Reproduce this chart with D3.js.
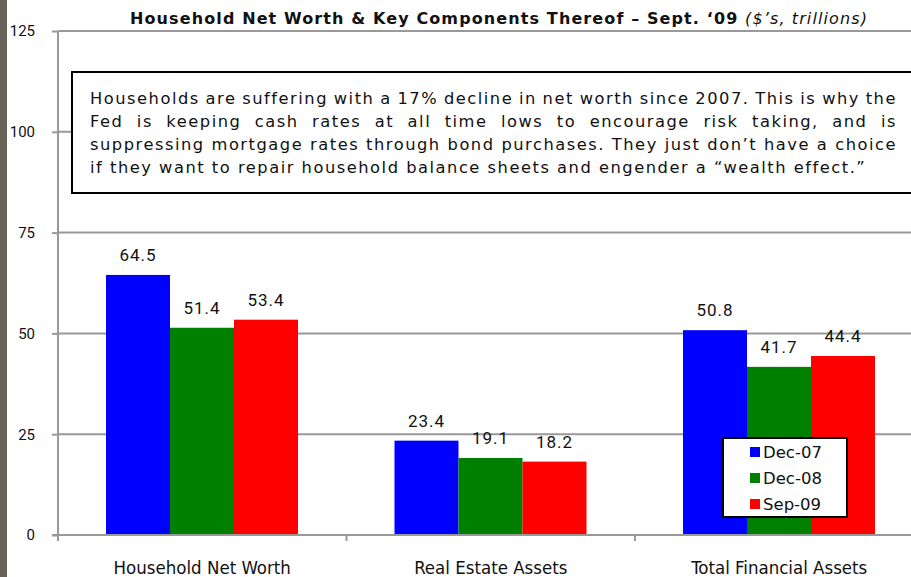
<!DOCTYPE html>
<html>
<head>
<meta charset="utf-8">
<script src="https://cdn.jsdelivr.net/npm/d3@7"></script>
<style>
  body { margin: 0; background: #fff; }
  svg { display: block; }
</style>
</head>
<body>
<div id="chart"></div>
<script>
// Set dimensions and margins for plot
const width = 911;
const height = 577;
const margin = {left: 58, top: 31, bottom: 42};
const band = 288.5;

// Chart data
const categories = ["Household Net Worth", "Real Estate Assets", "Total Financial Assets"];
const seriesNames = ["Dec-07", "Dec-08", "Sep-09"];
const dec07 = [64.5, 23.4, 50.8];
const dec08 = [51.4, 19.1, 41.7];
const sep09 = [53.4, 18.2, 44.4];
const colors = ["#0000ff", "#008000", "#ff0000"];
const yTicks = [0, 25, 50, 75, 100, 125];

const titleMain = "Household Net Worth & Key Components Thereof \u2013 Sept. \u201809 ";
const titleItalic = "($\u2019s, trillions)";
const noteLines = [
  "Households are suffering with a 17% decline in net worth since 2007. This is why the",
  "Fed is keeping cash rates at all time lows to encourage risk taking, and is",
  "suppressing mortgage rates through bond purchases. They just don\u2019t have a choice",
  "if they want to repair household balance sheets and engender a \u201cwealth effect.\u201d"
];

const series = [dec07, dec08, sep09];
const font = "'DejaVu Sans', sans-serif";

const svg = d3.select("#chart")
  .append("svg")
  .attr("width", width)
  .attr("height", height);

// left edge strip
svg.append("rect")
  .attr("x", 0).attr("y", 0)
  .attr("width", 7).attr("height", height)
  .attr("fill", "#6b6259");

// Scales
let yScale = d3.scaleLinear()
  .domain([0, 125])
  .range([height - margin.bottom, margin.top]);

let xScale = d3.scaleBand()
  .domain(d3.range(categories.length + 1))
  .range([margin.left, margin.left + band * 4]);

let xSub = d3.scaleBand()
  .domain(d3.range(series.length))
  .range([48, 48 + 192]);

// Gridlines
svg.append("g")
  .selectAll("line")
  .data(yTicks)
  .enter()
  .append("line")
    .attr("x1", margin.left)
    .attr("x2", width)
    .attr("y1", d => yScale(d))
    .attr("y2", d => yScale(d))
    .attr("stroke", "#999")
    .attr("stroke-width", 2);

// Y axis
const yAxis = svg.append("g")
  .attr("transform", `translate(${margin.left},0)`)
  .call(d3.axisLeft(yScale).tickValues(yTicks).tickSize(6).tickPadding(17))
  .attr("font-size", "15px")
  .attr("font-family", "Roboto, 'DejaVu Sans', sans-serif");
yAxis.selectAll("path, line").attr("stroke", "#999").attr("stroke-width", 2);
yAxis.select(".domain").attr("d", `M-6,${yScale(0)}H0V${yScale(125)}`);
yAxis.selectAll("text").attr("fill", "#111");

// Bars
const groups = svg.append("g")
  .selectAll("g")
  .data(series)
  .enter()
  .append("g")
    .attr("fill", (d, i) => colors[i]);

groups.each(function(vals, si) {
  d3.select(this).selectAll("rect")
    .data(vals)
    .enter()
    .append("rect")
      .attr("x", (d, ci) => xScale(ci) + xSub(si))
      .attr("y", d => yScale(d))
      .attr("width", xSub.bandwidth())
      .attr("height", d => yScale(0) - yScale(d));

  d3.select(this).selectAll("text")
    .data(vals)
    .enter()
    .append("text")
      .attr("x", (d, ci) => xScale(ci) + xSub(si) + xSub.bandwidth() / 2)
      .attr("y", d => yScale(d) - 14)
      .attr("text-anchor", "middle")
      .attr("fill", "#111")
      .attr("font-size", "17px")
      .attr("letter-spacing", "1px")
      .attr("font-family", "Roboto, 'DejaVu Sans', sans-serif")
      .text(d => d.toFixed(1));
});

// X axis
const xAxis = svg.append("g")
  .attr("transform", `translate(0,${yScale(0)})`);
xAxis.append("line")
  .attr("x1", margin.left).attr("x2", width)
  .attr("stroke", "#999").attr("stroke-width", 2);
xAxis.selectAll(".tick")
  .data(d3.range(categories.length))
  .enter()
  .append("line")
    .attr("x1", d => xScale(d)).attr("x2", d => xScale(d))
    .attr("y1", 0).attr("y2", 6)
    .attr("stroke", "#999").attr("stroke-width", 2);
xAxis.selectAll("text")
  .data(categories)
  .enter()
  .append("text")
    .attr("x", (d, i) => xScale(i) + xScale.bandwidth() / 2)
    .attr("y", 39)
    .attr("text-anchor", "middle")
    .attr("font-size", "18.5px")
    .attr("font-family", "'Liberation Sans Narrow', 'DejaVu Sans Condensed', sans-serif")
    .attr("fill", "#111")
    .text(d => d);

// Title: fit letter spacing so it spans the same width as the original
const title = svg.append("text")
  .attr("x", 130)
  .attr("y", 24)
  .attr("font-family", font)
  .attr("font-size", "16px")
  .attr("fill", "#111");
title.append("tspan").attr("font-weight", "bold").text(titleMain);
title.append("tspan").attr("font-style", "italic").text(titleItalic);
{
  const w = title.node().getComputedTextLength();
  const n = (titleMain + titleItalic).length;
  title.attr("letter-spacing", Math.max(0, ((868 - 130) - w) / n));
}

// Note box
svg.append("rect")
  .attr("x", 72).attr("y", 72)
  .attr("width", 860).attr("height", 121)
  .attr("fill", "#fff")
  .attr("stroke", "#000")
  .attr("stroke-width", 2);

const noteG = svg.append("g")
  .attr("font-family", font)
  .attr("font-size", "16.3px")
  .attr("fill", "#111");
const left = 90, right = 897;
// letter spacing from the last (left aligned) line, which ends near x=866
{
  const lastLine = noteLines[noteLines.length - 1];
  const probe = noteG.append("text").text(lastLine);
  const w = probe.node().getComputedTextLength();
  probe.remove();
  noteG.attr("letter-spacing", Math.max(0, ((866 - left) - w) / lastLine.length));
}
noteLines.forEach((line, li) => {
  const y = 104 + li * 23;
  const words = line.split(" ");
  const last = li === noteLines.length - 1;
  const nodes = words.map(w => noteG.append("text").attr("y", y).text(w));
  const widths = nodes.map(n => n.node().getComputedTextLength());
  const total = d3.sum(widths);
  let gap;
  if (last) {
    const sp = noteG.append("text").text("a a");
    const sa = noteG.append("text").text("aa");
    gap = sp.node().getComputedTextLength() - sa.node().getComputedTextLength();
    sp.remove(); sa.remove();
  } else {
    gap = (right - left - total) / (words.length - 1);
  }
  let x = left;
  nodes.forEach((n, i) => { n.attr("x", x); x += widths[i] + gap; });
});

// Legend
const legend = svg.append("g").attr("transform", "translate(723,438)");
legend.append("rect")
  .attr("width", 124).attr("height", 79)
  .attr("fill", "#fff").attr("stroke", "#000").attr("stroke-width", 2);
seriesNames.forEach((name, i) => {
  legend.append("rect")
    .attr("x", 27).attr("y", 9 + i * 26)
    .attr("width", 10).attr("height", 10)
    .attr("fill", colors[i]);
  legend.append("text")
    .attr("x", 40).attr("y", 20 + i * 26)
    .attr("font-family", font)
    .attr("font-size", "16.5px")
    .attr("fill", "#111")
    .text(name);
});
</script>
</body>
</html>
